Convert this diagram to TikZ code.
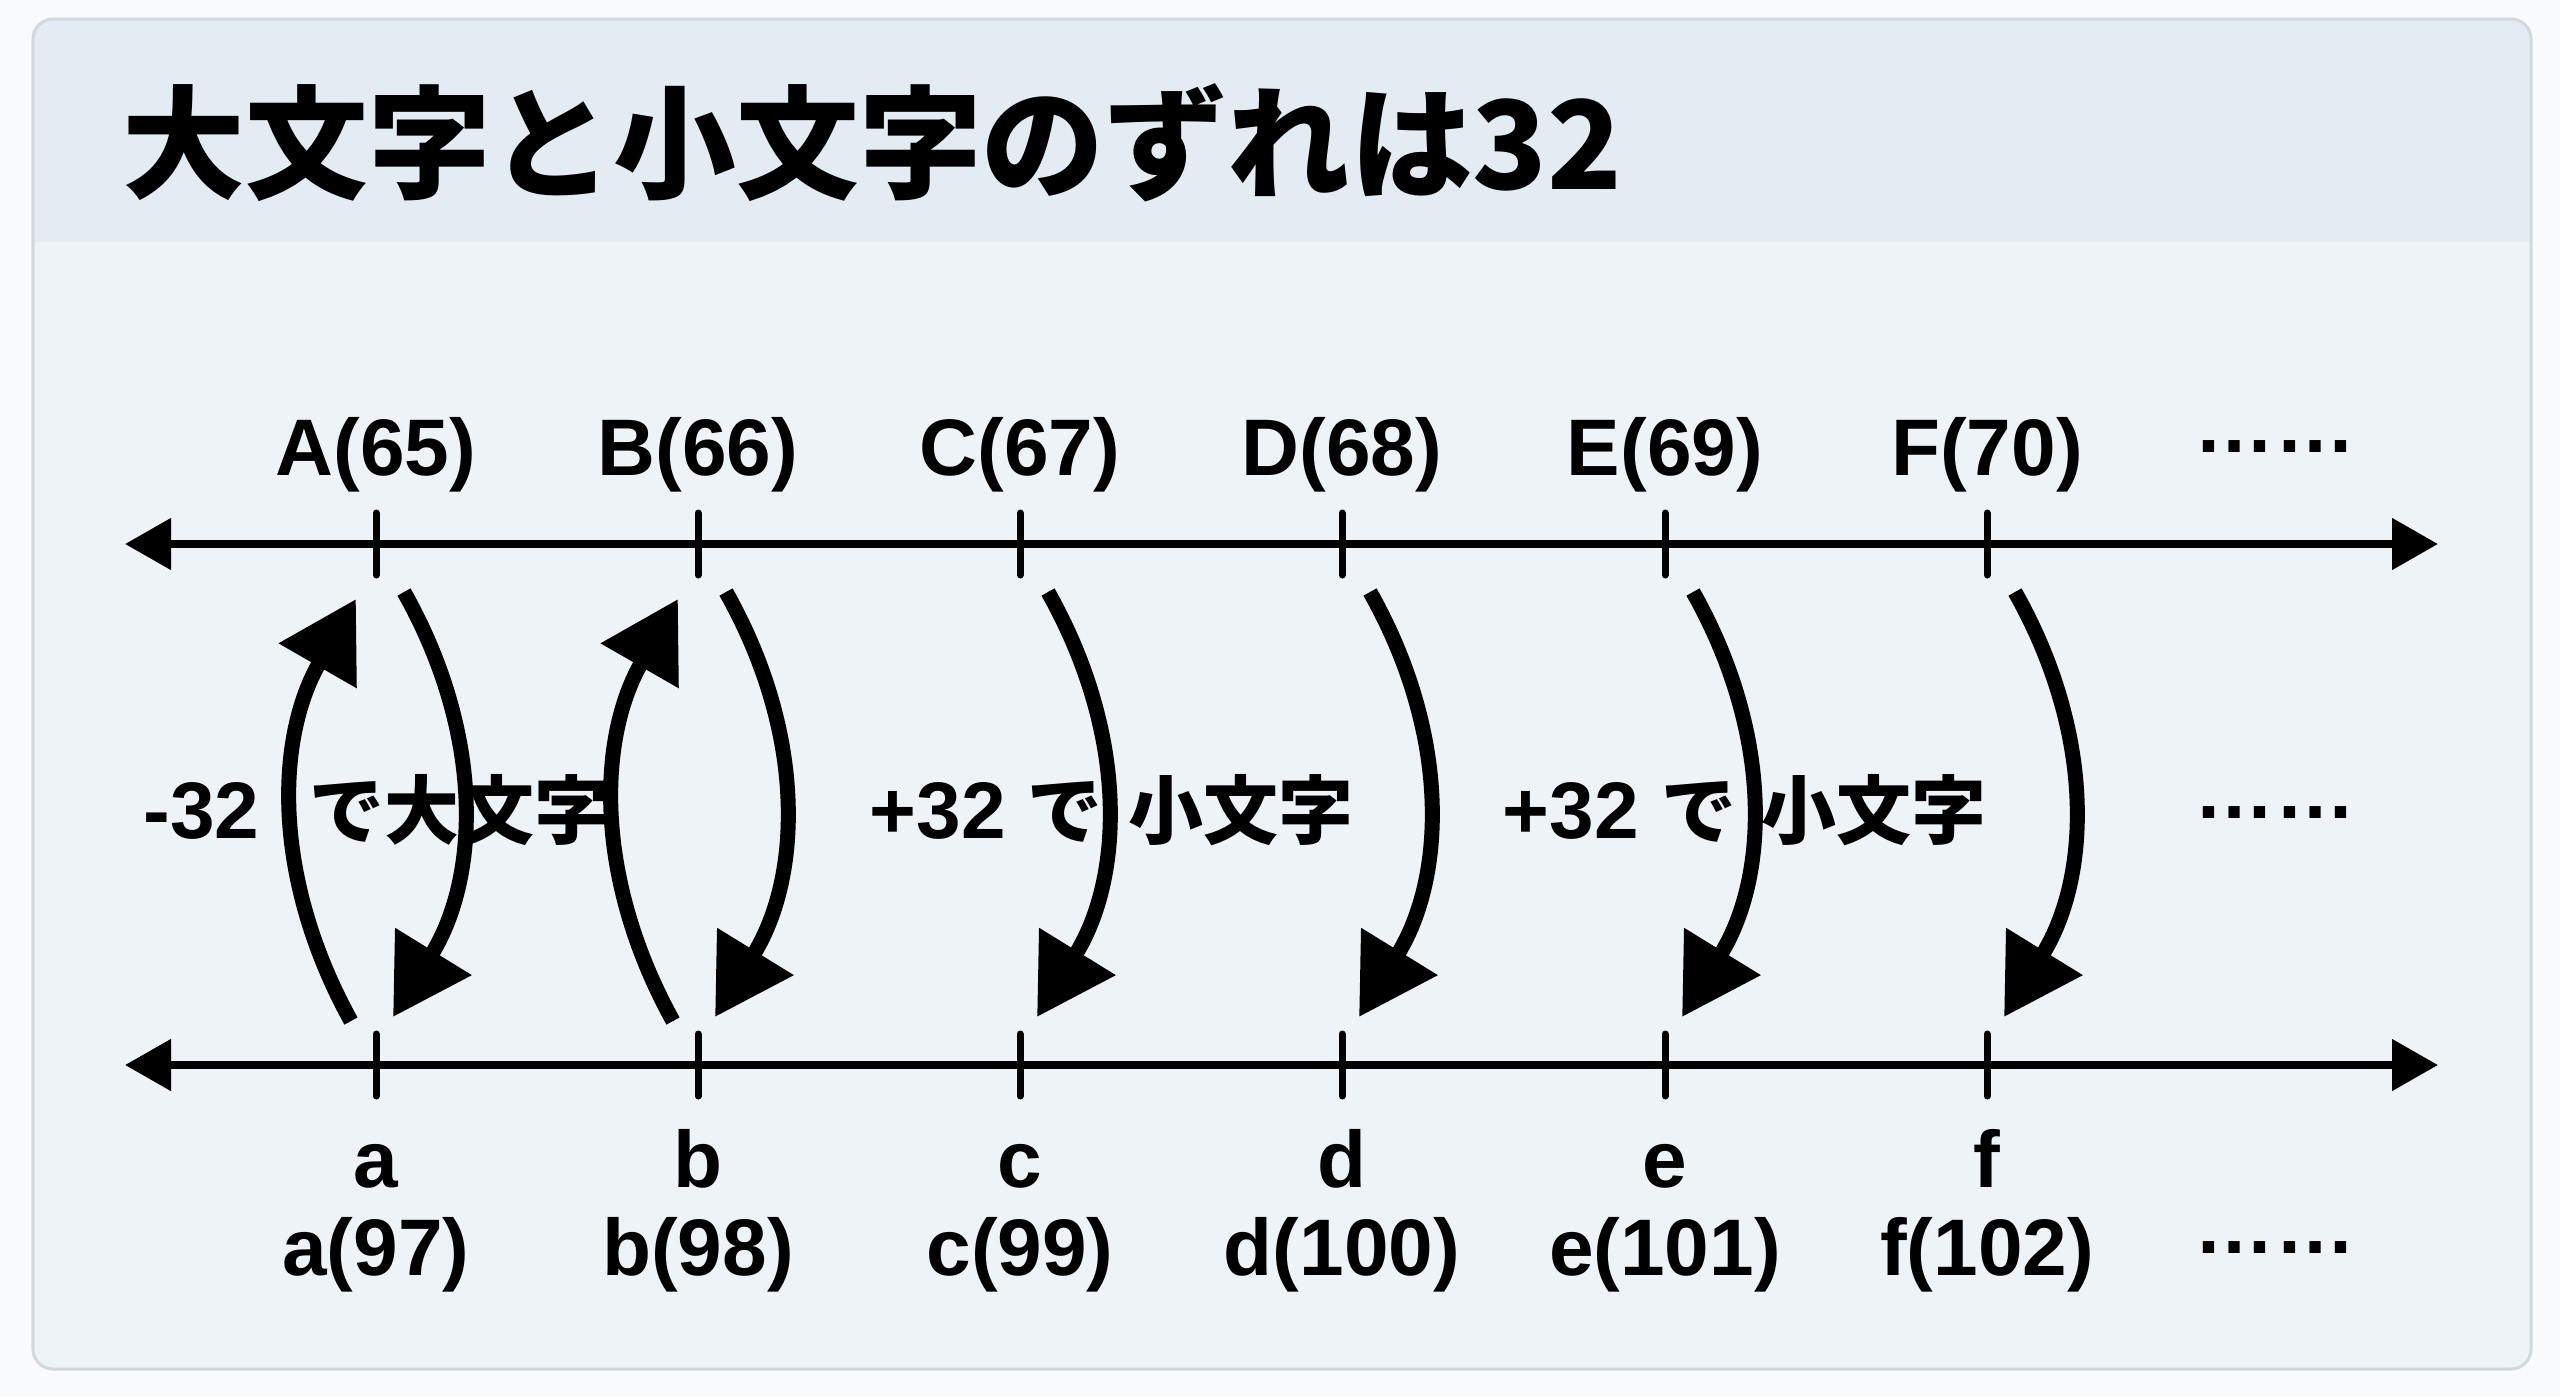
\documentclass[tikz,border=0pt]{standalone}
\usepackage{fontspec}
\setmainfont{Liberation Sans}
\newfontfamily\jp{Noto Sans CJK JP}
\usetikzlibrary{arrows.meta}
\definecolor{page}{HTML}{F9FAFB}
\definecolor{cardbody}{HTML}{EEF3F8}
\definecolor{band}{HTML}{E3EBF3}
\definecolor{cardline}{HTML}{D3D8DE}
\newcommand\jsmall{\jp\bfseries\fontsize{21.3pt}{26pt}\selectfont}

\begin{document}
\begin{tikzpicture}[
    x=0.01cm,y=-0.01cm,
    lbl/.style={font=\fontsize{22.8pt}{27pt}\selectfont\bfseries,inner sep=0pt,anchor=base},
    more/.style={font=\fontsize{22.8pt}{27pt}\selectfont\bfseries,inner sep=0pt,anchor=base},
    headline/.style={font=\jp\bfseries\fontsize{34.9pt}{40pt}\selectfont,inner sep=0pt,anchor=base west},
    numline/.style={line width=0.08cm,{Triangle[length=0.46cm,width=0.5cm]}-{Triangle[length=0.46cm,width=0.5cm]}},
    notch/.style={line width=0.07cm,line cap=round},
    casearrow/.style={line width=0.15cm,-{Triangle[length=0.77cm,width=0.86cm]}}
    ]
    \useasboundingbox (0,0) rectangle (2560,1396);
    \fill[page] (0,0) rectangle (2560,1396);
    % card with title band
    \begin{scope}
      \clip[rounded corners=0.2cm] (33,19) rectangle (2531,1369);
      \fill[cardbody] (33,19) rectangle (2531,1369);
      \fill[band] (33,19) rectangle (2531,242);
    \end{scope}
    \draw[cardline,line width=0.03cm,rounded corners=0.2cm] (33,19) rectangle (2531,1369);
    \node[headline] (title) at (122,189) {大文字と小文字のずれは32};

    % number lines
    \coordinate (tl) at (125,544);
    \coordinate (tr) at (2438,544);
    \coordinate (bl) at (125,1065);
    \coordinate (br) at (2438,1065);
    \draw[numline] (tl) -- (tr);
    \draw[numline] (bl) -- (br);
    \draw[notch] (376,513) -- (376,575);
    \draw[notch] (698,513) -- (698,575);
    \draw[notch] (1020,513) -- (1020,575);
    \draw[notch] (1342,513) -- (1342,575);
    \draw[notch] (1665,513) -- (1665,575);
    \draw[notch] (1987,513) -- (1987,575);
    \draw[notch] (376,1034) -- (376,1096);
    \draw[notch] (698,1034) -- (698,1096);
    \draw[notch] (1020,1034) -- (1020,1096);
    \draw[notch] (1342,1034) -- (1342,1096);
    \draw[notch] (1665,1034) -- (1665,1096);
    \draw[notch] (1987,1034) -- (1987,1096);

    % upper case
    \node[lbl] (A) at (376,475) {A(65)};
    \node[lbl] (B) at (698,475) {B(66)};
    \node[lbl] (C) at (1020,475) {C(67)};
    \node[lbl] (D) at (1342,475) {D(68)};
    \node[lbl] (E) at (1665,475) {E(69)};
    \node[lbl] (F) at (1987,475) {F(70)};
    \node[more] (moreup) at (2275,452) {……};

    % lower case
    \node[lbl] (a) at (376,1187) {a};
    \node[lbl] (b) at (698,1187) {b};
    \node[lbl] (c) at (1020,1187) {c};
    \node[lbl] (d) at (1342,1187) {d};
    \node[lbl] (e) at (1665,1187) {e};
    \node[lbl] (f) at (1987,1187) {f};
    \node[lbl] (a97) at (376,1275) {a(97)};
    \node[lbl] (b98) at (698,1275) {b(98)};
    \node[lbl] (c99) at (1020,1275) {c(99)};
    \node[lbl] (d100) at (1342,1275) {d(100)};
    \node[lbl] (e101) at (1665,1275) {e(101)};
    \node[lbl] (f102) at (1987,1275) {f(102)};
    \node[more] (morelow) at (2275,1253) {……};

    % arrow ends
    \coordinate (Aup0) at (351,1021);
    \coordinate (Aup1) at (356,599);
    \coordinate (Bup0) at (673,1021);
    \coordinate (Bup1) at (678,599);
    \coordinate (Adn0) at (404,592);
    \coordinate (Adn1) at (393,1017);
    \coordinate (Bdn0) at (726,592);
    \coordinate (Bdn1) at (715,1017);
    \coordinate (Cdn0) at (1048,592);
    \coordinate (Cdn1) at (1037,1017);
    \coordinate (Ddn0) at (1370,592);
    \coordinate (Ddn1) at (1359,1017);
    \coordinate (Edn0) at (1693,592);
    \coordinate (Edn1) at (1682,1017);
    \coordinate (Fdn0) at (2015,592);
    \coordinate (Fdn1) at (2004,1017);
    \draw[casearrow] (Aup0) .. controls (273,880) and (275,740) .. (Aup1);
    \draw[casearrow] (Bup0) .. controls (595,880) and (597,740) .. (Bup1);
    \draw[casearrow] (Adn0) .. controls (484,734) and (480,876) .. (Adn1);
    \draw[casearrow] (Bdn0) .. controls (806,734) and (802,876) .. (Bdn1);
    \draw[casearrow] (Cdn0) .. controls (1128,734) and (1124,876) .. (Cdn1);
    \draw[casearrow] (Ddn0) .. controls (1450,734) and (1446,876) .. (Ddn1);
    \draw[casearrow] (Edn0) .. controls (1773,734) and (1769,876) .. (Edn1);
    \draw[casearrow] (Fdn0) .. controls (2095,734) and (2091,876) .. (Fdn1);

    % middle labels
    \node[lbl,anchor=base west] (toupper) at (143,838) {-32\hspace{0.5cm}{\jsmall で大文字}};
    \node[lbl,anchor=base west] (tolower1) at (869,838) {+32 {\jsmall で}\hspace{0.26cm}{\jsmall 小文字}};
    \node[lbl,anchor=base west] (tolower2) at (1502,838) {+32 {\jsmall で}\hspace{0.26cm}{\jsmall 小文字}};
    \node[more] (moremid) at (2275,818) {……};
  \end{tikzpicture}
\end{document}
